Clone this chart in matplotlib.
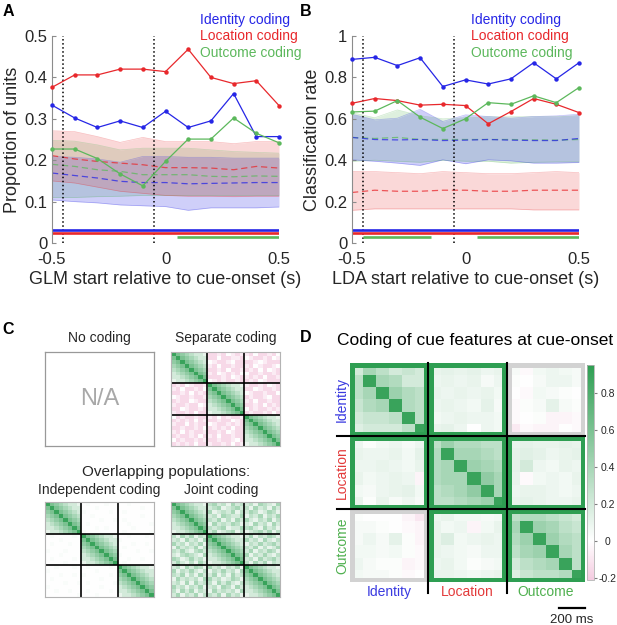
import numpy as np
import matplotlib.pyplot as plt
from matplotlib.colors import LinearSegmentedColormap, Normalize
from matplotlib.patches import Rectangle
import matplotlib.cm as cm

plt.rcParams['font.family'] = ['Liberation Sans', 'DejaVu Sans']
plt.rcParams['axes.unicode_minus'] = False

# ---------------- data: panels A and B ----------------
t = [-0.5, -0.4, -0.3, -0.2, -0.1, 0.0, 0.1, 0.2, 0.3, 0.4, 0.5]

# A: proportion of units (GLM)
glm_identity = [0.333, 0.302, 0.279, 0.295, 0.279, 0.318, 0.279, 0.295, 0.361, 0.257, 0.257]
glm_location = [0.376, 0.406, 0.406, 0.420, 0.420, 0.414, 0.468, 0.400, 0.385, 0.392, 0.332]
glm_outcome = [0.227, 0.227, 0.204, 0.167, 0.138, 0.197, 0.251, 0.251, 0.302, 0.265, 0.242]

glm_shuf_identity = [0.169, 0.163, 0.157, 0.149, 0.146, 0.146, 0.143, 0.144, 0.145, 0.146, 0.146]
glm_shuf_identity_lo = [0.104, 0.100, 0.097, 0.092, 0.090, 0.088, 0.079, 0.085, 0.085, 0.085, 0.087]
glm_shuf_identity_hi = [0.209, 0.207, 0.203, 0.195, 0.209, 0.209, 0.207, 0.207, 0.205, 0.205, 0.205]
glm_shuf_location = [0.211, 0.203, 0.197, 0.193, 0.189, 0.182, 0.182, 0.181, 0.177, 0.185, 0.181]
glm_shuf_location_lo = [0.150, 0.145, 0.135, 0.125, 0.120, 0.115, 0.113, 0.113, 0.112, 0.113, 0.113]
glm_shuf_location_hi = [0.271, 0.269, 0.257, 0.243, 0.255, 0.245, 0.245, 0.245, 0.240, 0.245, 0.245]
glm_shuf_outcome = [0.190, 0.185, 0.177, 0.173, 0.165, 0.165, 0.165, 0.161, 0.160, 0.162, 0.161]
glm_shuf_outcome_lo = [0.110, 0.110, 0.112, 0.113, 0.115, 0.115, 0.115, 0.115, 0.115, 0.115, 0.115]
glm_shuf_outcome_hi = [0.248, 0.246, 0.237, 0.225, 0.229, 0.229, 0.229, 0.225, 0.221, 0.219, 0.217]

glm_sig_identity = [(-0.5, 0.5)]
glm_sig_location = [(-0.5, 0.5)]
glm_sig_outcome = [(0.05, 0.5)]

# B: classification rate (LDA)
lda_identity = [0.887, 0.897, 0.857, 0.895, 0.756, 0.788, 0.768, 0.793, 0.871, 0.793, 0.871]
lda_location = [0.675, 0.698, 0.688, 0.666, 0.670, 0.664, 0.576, 0.635, 0.698, 0.670, 0.630]
lda_outcome = [0.633, 0.637, 0.688, 0.608, 0.553, 0.600, 0.678, 0.670, 0.711, 0.678, 0.751]

lda_shuf_identity = [0.510, 0.500, 0.498, 0.500, 0.495, 0.497, 0.500, 0.497, 0.495, 0.495, 0.505]
lda_shuf_identity_lo = [0.402, 0.395, 0.386, 0.375, 0.402, 0.383, 0.402, 0.397, 0.386, 0.386, 0.389]
lda_shuf_identity_hi = [0.622, 0.595, 0.603, 0.646, 0.587, 0.619, 0.611, 0.603, 0.611, 0.614, 0.622]
lda_shuf_location = [0.244, 0.255, 0.250, 0.250, 0.255, 0.255, 0.250, 0.250, 0.255, 0.255, 0.255]
lda_shuf_location_lo = [0.158, 0.165, 0.165, 0.165, 0.165, 0.165, 0.165, 0.165, 0.160, 0.160, 0.160]
lda_shuf_location_hi = [0.346, 0.345, 0.340, 0.335, 0.345, 0.340, 0.335, 0.335, 0.340, 0.345, 0.340]
lda_shuf_outcome = [0.510, 0.505, 0.510, 0.500, 0.500, 0.500, 0.500, 0.500, 0.498, 0.497, 0.500]
lda_shuf_outcome_lo = [0.395, 0.400, 0.395, 0.390, 0.400, 0.395, 0.395, 0.386, 0.390, 0.392, 0.392]
lda_shuf_outcome_hi = [0.630, 0.605, 0.643, 0.615, 0.600, 0.605, 0.610, 0.610, 0.610, 0.610, 0.615]

lda_sig_identity = [(-0.5, 0.5)]
lda_sig_location = [(-0.5, 0.5)]
lda_sig_outcome = [(-0.45, -0.15), (0.05, 0.5)]

# ---------------- data: panel C (model cartoons) ----------------
# one char per cell: digits = tenths, 'e' faint positive, 'a'/'b' negative, '.' = diagonal block
diag_block = ["96543221",
              "69654322",
              "56965432",
              "45696543",
              "34569654",
              "23456965",
              "22345696",
              "12234569"]

separate_offdiag = [
    "........bbab0abaab0bbab0",
    "........bb0bbaab0abbab0a",
    "........0abba0bbbba0abbb",
    "........ab0bbabbab0abba0",
    "........bbab0bbabab0b0ab",
    "........ab0abab00bbabbab",
    "........bbbab0ababab0bba",
    "........0ababbabbab0abbb",
    "bab0abba........abbab0ab",
    "ab0bbab0........bb0abbab",
    "bbab0bab........0abbabb0",
    "0abbabba........babba0bb",
    "babb0abb........ab0bbabb",
    "abbabb0a........bbab0bab",
    "bb0abbab........0babbaba",
    "abbab0bb........babbab0b",
    "0babbabbab0babba........",
    "babab0babbabb0ab........",
    "abb0babb0abbabab........",
    "bbabbab0babab0bb........",
    "ab0babbabbab0abb........",
    "babbab0bab0bbabb........",
    "0babbababbabba0b........",
    "babab0bbabbab0ba........",
]

independent_offdiag = [
    "........0e000e0000e00000",
    "........000e000000000e00",
    "........e00000e00e000000",
    "........00e0000000000e00",
    "........0000e00e0e000000",
    "........0e00000000e0000e",
    "........000e0e00000e0000",
    "........e00000000e00000e",
    "0e0000e0........00e000e0",
    "000e0000........e0000000",
    "0e000e00........000e00e0",
    "00000000........0e000000",
    "e000e000........0000e00e",
    "000e0000........e0000000",
    "0e0000e0........00e00e00",
    "0000e000........0e000000",
    "00e000e00e0000e0........",
    "e0000000000e0000........",
    "000e00e0e00000e0........",
    "0e0000000000e000........",
    "0000e00e0e00000e........",
    "e00000000000e000........",
    "00e00e000e0000e0........",
    "0000000e000e0000........",
]

joint_offdiag = [
    "........3423142323143214",
    "........2341234231423142",
    "........4123241324312431",
    "........2314322413241324",
    "........3241314242132413",
    "........1423243121423142",
    "........3234122434214231",
    "........2412341312342413",
    "31424132........24132431",
    "23142314........42314213",
    "42313241........13242342",
    "14232413........32413124",
    "32421342........24132431",
    "21343214........41324213",
    "43124231........23142342",
    "24213142........31424132",
    "2314243142313241........",
    "4132421313242314........",
    "3241314224131423........",
    "1423231442312431........",
    "2314142331424213........",
    "4231324123143142........",
    "3142413214232314........",
    "2413241332414231........",
]

# ---------------- data: panel D (cross-temporal coding, x100) ----------------
cue_coding = [
    [20, 40, 30, 20, 25, 20, 10, 12, 10, 12, 8, 10, 4, -2, 6, 8, 6, 4],
    [30, 90, 40, 35, 20, 20, 8, 10, 8, 10, 4, 8, 2, 0, 4, 8, 8, 4],
    [30, 40, 90, 45, 35, 30, 10, 8, 10, 8, 10, 6, 0, -2, 6, 4, 2, 0],
    [25, 35, 40, 90, 35, 30, 8, 10, 8, 6, 12, 4, -2, 2, 4, 12, 4, 2],
    [20, 25, 25, 30, 90, 30, 6, 8, 10, 8, 8, 6, -2, 0, 2, -4, -4, -2],
    [15, 20, 20, 20, 30, 90, 10, 12, 8, 0, 8, 6, -8, -2, -4, -4, 0, -2],
    [8, 2, 6, 8, 4, 8, 30, 45, 35, 35, 30, 30, 10, 12, 10, 10, 12, 10],
    [10, 8, 8, 10, 6, 12, 35, 90, 40, 40, 35, 30, 12, 14, 12, 8, 10, 12],
    [8, 8, 10, 8, 6, 10, 35, 40, 90, 45, 40, 35, 12, 20, 8, 6, 10, 8],
    [10, 6, 8, 10, 8, -4, 35, 40, 40, 90, 50, 40, 10, -2, 6, 8, 6, 10],
    [6, 4, 8, 10, 12, 6, 30, 35, 40, 50, 90, 40, 8, 10, 10, 8, 6, 8],
    [10, 2, 10, 4, 8, 4, 30, 30, 35, 40, 45, 90, 10, 12, 10, 8, 8, 10],
    [2, 0, 0, 0, -4, -10, 8, 10, 6, 6, 4, 6, 30, 35, 35, 30, 25, 20],
    [4, 4, 2, 0, -2, -4, 10, 6, 8, -4, 6, 10, 40, 90, 45, 40, 30, 25],
    [4, 8, 4, 12, 2, -4, 10, 16, 6, 8, 10, 8, 35, 45, 90, 45, 35, 30],
    [6, 6, 4, 6, 2, -2, 10, 8, 6, 4, 8, 8, 30, 40, 45, 90, 40, 30],
    [8, 4, 2, 2, -4, -2, 8, 10, 6, 2, 4, 6, 20, 30, 35, 40, 90, 30],
    [6, 4, 4, 2, -2, 0, 10, 10, 8, 6, 8, 10, 15, 25, 30, 30, 35, 90],
]
# True = significant block (green frame), False = grey frame
block_sig = [[True, True, False],
             [True, True, True],
             [False, True, True]]
features = ['Identity', 'Location', 'Outcome']

# ---------------- style ----------------
BLUE = '#2626e6'
RED = '#e8282c'
GREEN = '#5cb85c'
TXT = '0.15'
DKGREEN = '#2e9e52'
feat_colors = ['#3a3ae0', '#e33b3b', '#4fb04f']

W, H = 617, 625
fig = plt.figure(figsize=(W / 100, H / 100), dpi=100)


def box(x0, y0, x1, y1):
    # pixel box (top-left origin) -> figure fraction rect
    return [x0 / W, 1 - y1 / H, (x1 - x0) / W, (y1 - y0) / H]


def ftext(x, y, s, **kw):
    fig.text(x / W, 1 - y / H, s, **kw)


def time_panel(ax, obs, shuf, sig, ylim, yticks, ylabel, xlabel, legend_x, sig_y):
    colors = [BLUE, RED, GREEN]
    band_alpha = [0.22, 0.18, 0.2]
    # bands: green first, then blue, then red on top
    for k in [2, 0, 1]:
        m, lo, hi = shuf[k]
        ax.fill_between(t, lo, hi, color=colors[k], alpha=band_alpha[k], lw=0)
        ax.plot(t, lo, color=colors[k], lw=0.5, alpha=0.3)
        ax.plot(t, hi, color=colors[k], lw=0.5, alpha=0.3)
    for k in [2, 0, 1]:
        ax.plot(t, shuf[k][0], '--', color=colors[k], lw=0.9, alpha=0.75, dashes=(5, 3))
    for xv in [-0.45, -0.05]:
        ax.plot([xv, xv], ylim, ':', color='k', lw=1.1)
    for k in [0, 1, 2]:
        ax.plot(t, obs[k], '-o', color=colors[k], lw=0.9, ms=3.2, mec='none',
                clip_on=False, zorder=4)
    for k in [0, 1, 2]:
        for a, b in sig[k]:
            ax.plot([a, b], [sig_y[k], sig_y[k]], color=colors[k], lw=1.9,
                    solid_capstyle='butt')
    ax.set_xlim(-0.5, 0.5)
    ax.set_ylim(*ylim)
    ax.set_xticks([-0.5, 0, 0.5])
    ax.set_xticklabels(['-0.5', '0', '0.5'])
    ax.set_yticks(yticks)
    ax.set_yticklabels(['%g' % v for v in yticks])
    for s in ['top', 'right', 'bottom']:
        ax.spines[s].set_visible(False)
    ax.spines['left'].set_color('0.55')
    ax.spines['left'].set_linewidth(0.8)
    ax.tick_params(axis='y', direction='in', length=3, color='0.55', pad=3.5,
                   labelsize=12, labelcolor=TXT)
    ax.tick_params(axis='x', length=0, pad=6.5, labelsize=12, labelcolor=TXT)
    ax.set_ylabel(ylabel, fontsize=13, color=TXT, labelpad=2)
    ax.set_xlabel(xlabel, fontsize=13, color=TXT, labelpad=3)
    for k, (lab, yy) in enumerate([('Identity coding', 1.077),
                                   ('Location coding', 1.0),
                                   ('Outcome coding', 0.918)]):
        ax.text(legend_x, yy, lab, transform=ax.transAxes, color=colors[k],
                fontsize=10, va='center', ha='left')


# Panel A
axA = fig.add_axes(box(52, 36, 279, 243))
time_panel(axA,
           [glm_identity, glm_location, glm_outcome],
           [(glm_shuf_identity, glm_shuf_identity_lo, glm_shuf_identity_hi),
            (glm_shuf_location, glm_shuf_location_lo, glm_shuf_location_hi),
            (glm_shuf_outcome, glm_shuf_outcome_lo, glm_shuf_outcome_hi)],
           [glm_sig_identity, glm_sig_location, glm_sig_outcome],
           (0, 0.5), [0, 0.1, 0.2, 0.3, 0.4, 0.5],
           'Proportion of units', 'GLM start relative to cue-onset (s)',
           (200 - 52) / 227, [0.032, 0.024, 0.0137])

# Panel B
axB = fig.add_axes(box(352, 36, 579, 243))
time_panel(axB,
           [lda_identity, lda_location, lda_outcome],
           [(lda_shuf_identity, lda_shuf_identity_lo, lda_shuf_identity_hi),
            (lda_shuf_location, lda_shuf_location_lo, lda_shuf_location_hi),
            (lda_shuf_outcome, lda_shuf_outcome_lo, lda_shuf_outcome_hi)],
           [lda_sig_identity, lda_sig_location, lda_sig_outcome],
           (0, 1), [0, 0.2, 0.4, 0.6, 0.8, 1],
           'Classification rate', 'LDA start relative to cue-onset (s)',
           (471 - 352) / 227, [0.064, 0.048, 0.027])

# colour map shared by C and D
VMIN, VMAX = -0.21, 0.95
cmap = LinearSegmentedColormap.from_list(
    'pkgn', [(0.0, '#f4cbe0'), (-VMIN / (VMAX - VMIN), '#ffffff'), (1.0, DKGREEN)])
norm = Normalize(VMIN, VMAX)

CHARS = {'e': 0.03, 'a': -0.07, 'b': -0.15}


def decode(rows):
    return [[CHARS[c] if c in CHARS else (np.nan if c == '.' else int(c) / 10)
             for c in r] for r in rows]


def cartoon(rect, offdiag):
    ax = fig.add_axes(rect)
    m = np.array(decode(offdiag))
    d = np.array(decode(diag_block))
    for b in range(3):
        m[b * 8:(b + 1) * 8, b * 8:(b + 1) * 8] = d
    ax.imshow(m, cmap=cmap, norm=norm, extent=(0, 24, 24, 0), aspect='auto',
              interpolation='nearest')
    for v in [8, 16]:
        ax.axhline(v, color='k', lw=1.2)
        ax.axvline(v, color='k', lw=1.2)
    ax.set_xticks([])
    ax.set_yticks([])
    for s in ax.spines.values():
        s.set_color('0.7')
        s.set_linewidth(0.8)
    return ax


# Panel C
ax_na = fig.add_axes(box(45, 352, 154, 446))
ax_na.set_xticks([])
ax_na.set_yticks([])
for s in ax_na.spines.values():
    s.set_color('0.6')
    s.set_linewidth(0.9)
ax_na.text(0.5, 0.5, 'N/A', transform=ax_na.transAxes, ha='center', va='center',
           fontsize=17, color='0.66')
cartoon(box(171, 352, 280, 446), separate_offdiag)
cartoon(box(45, 502, 154, 597), independent_offdiag)
cartoon(box(171, 502, 280, 597), joint_offdiag)

ftext(99.5, 338, 'No coding', ha='center', va='center', fontsize=10, color=TXT)
ftext(226, 338, 'Separate coding', ha='center', va='center', fontsize=10, color=TXT)
ftext(166, 472, 'Overlapping populations:', ha='center', va='center', fontsize=11,
      color=TXT)
ftext(99, 490, 'Independent coding', ha='center', va='center', fontsize=10, color=TXT)
ftext(221, 490, 'Joint coding', ha='center', va='center', fontsize=10, color=TXT)

# Panel D
axD = fig.add_axes(box(350, 363, 585, 582))
axD.imshow(np.array(cue_coding) / 100, cmap=cmap, norm=norm, extent=(0, 18, 18, 0),
           aspect='auto', interpolation='nearest')
ix, iy = 0.19, 0.2
for i in range(3):
    for j in range(3):
        ec = DKGREEN if block_sig[i][j] else '#d2d2d2'
        axD.add_patch(Rectangle((j * 6 + ix, i * 6 + iy), 6 - 2 * ix, 6 - 2 * iy,
                                fill=False, ec=ec, lw=3.6, joinstyle='miter'))
for v in [6, 12]:
    axD.plot([-1, 18], [v, v], color='k', lw=1.5, clip_on=False)
    axD.plot([v, v], [0, 18.9], color='k', lw=1.5, clip_on=False)
axD.set_xlim(0, 18)
axD.set_ylim(18, 0)
axD.axis('off')
for k, name in enumerate(features):
    axD.text(k * 6 + 3, 18.85, name, ha='center', va='center', fontsize=10,
             color=feat_colors[k], clip_on=False)
    axD.text(-0.6, k * 6 + 3, name, ha='center', va='center', rotation=90,
             fontsize=10, color=feat_colors[k], clip_on=False)
# 200 ms scale bar (one cell = 100 ms)
axD.plot([16, 18], [20.1, 20.1], color='k', lw=1.6, clip_on=False)
axD.text(17, 21.1, '200 ms', ha='center', va='center', fontsize=9.5, color=TXT,
         clip_on=False)
ftext(475, 340, 'Coding of cue features at cue-onset', ha='center', va='center',
      fontsize=12.5, color='k')

cax = fig.add_axes(box(587, 365, 594, 580))
cb = fig.colorbar(cm.ScalarMappable(norm=norm, cmap=cmap), cax=cax,
                  ticks=[-0.2, 0, 0.2, 0.4, 0.6, 0.8])
cb.ax.set_yticklabels(['-0.2', '0', '0.2', '0.4', '0.6', '0.8'])
cb.ax.tick_params(labelsize=7.5, length=2, color='0.5', labelcolor=TXT, pad=8)
for lbl in cb.ax.get_yticklabels():
    lbl.set_horizontalalignment('center')
cb.outline.set_edgecolor('0.7')
cb.outline.set_linewidth(0.6)

# panel letters
for lab, x, y in [('A', 3, 11), ('B', 300, 11), ('C', 2, 329), ('D', 300, 337)]:
    ftext(x, y, lab, ha='left', va='center', fontsize=11.5, fontweight='bold')

fig.savefig('out.png', dpi=100)
